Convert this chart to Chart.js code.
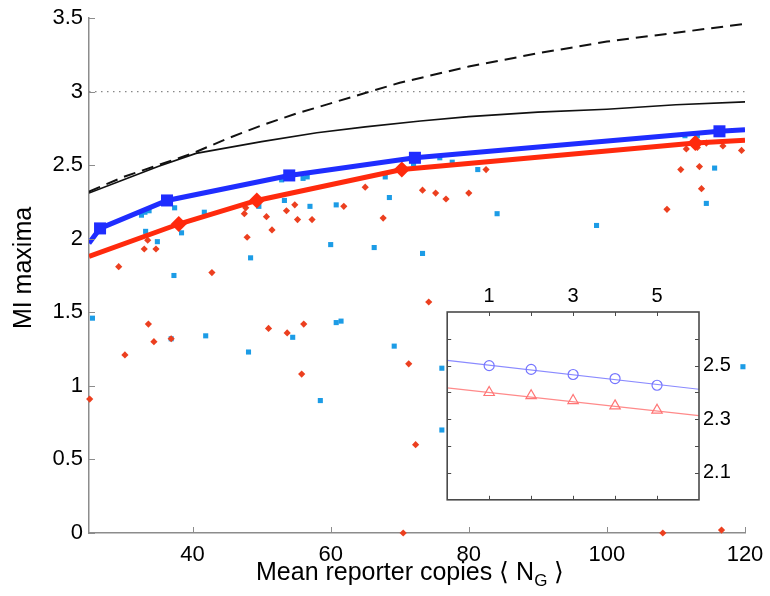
<!DOCTYPE html>
<html>
<head>
<meta charset="utf-8">
<script src="https://cdn.jsdelivr.net/npm/chart.js@4.4.1/dist/chart.umd.min.js"></script>
<style>
  html, body { margin: 0; padding: 0; background: #fff; }
  #wrap { position: relative; width: 770px; height: 596px; }
  #main { position: absolute; left: 0; top: 0; }
  #inset { position: absolute; left: 440px; top: 280px; }
</style>
</head>
<body>
<div id="wrap">
  <canvas id="main" width="770" height="596"></canvas>
  <canvas id="inset" width="300" height="227"></canvas>
</div>
<script>
const FONT = "'Liberation Sans', Arial, Helvetica, sans-serif";

// main axes
const xTicks = [40, 60, 80, 100, 120];
const yTicks = [0, 0.5, 1, 1.5, 2, 2.5, 3, 3.5];

// upper bounds (black dashed / black solid) and the 3 bit line
const dashX = [25, 30, 35, 40, 45, 50, 55, 60, 65, 70, 80, 90, 100, 110, 120];
const dashY = [2.32, 2.42, 2.50, 2.58, 2.68, 2.77, 2.85, 2.92, 2.99, 3.06, 3.17, 3.26, 3.34, 3.40, 3.46];
const solidX = [25, 30, 35, 40.5, 50, 58, 65, 73, 80, 90, 100, 110, 120];
const solidY = [2.31, 2.40, 2.49, 2.58, 2.66, 2.72, 2.76, 2.80, 2.83, 2.86, 2.88, 2.91, 2.93];
const limitX = [25, 120];
const limitY = [3, 3];

// fitted maxima curves
const blueX = [25, 26.6, 36.3, 54, 72.2, 116.3, 120];
const blueY = [1.97, 2.07, 2.26, 2.43, 2.55, 2.73, 2.74];
const redX = [25, 38, 49.3, 70.3, 112.8, 120];
const redY = [1.88, 2.10, 2.26, 2.47, 2.65, 2.67];

// single gene maxima
const bluePts = [
  [25.5, 1.46], [32.6, 2.16], [33.1, 2.18], [33.7, 2.19], [33.2, 2.05], [34.9, 1.98],
  [36.9, 1.32], [37.3, 1.75], [37.4, 2.21], [38.4, 2.04], [41.7, 2.18], [41.9, 1.34],
  [48.1, 1.23], [48.4, 1.87], [49.6, 2.22], [52.9, 2.40], [53.3, 2.26], [54.5, 1.33],
  [56.0, 2.41], [56.6, 2.42], [57.0, 2.22], [58.5, 0.90], [60.0, 1.96], [60.8, 2.23],
  [60.8, 1.43], [61.5, 1.44], [66.3, 1.94], [67.9, 2.42], [68.5, 2.28], [69.2, 1.27],
  [72.0, 2.51], [73.3, 1.90], [75.8, 2.55], [76.1, 1.12], [76.1, 0.70], [77.6, 2.52],
  [81.3, 2.47], [84.1, 2.17], [98.5, 2.09], [111.3, 2.70], [113.1, 2.70], [114.4, 2.24],
  [115.6, 2.48], [119.7, 1.13]
];
const redPts = [
  [25.1, 0.91], [29.3, 1.81], [30.2, 1.21], [33.0, 1.93], [33.5, 1.99], [33.6, 1.42],
  [34.4, 1.30], [34.7, 1.93], [36.9, 1.32], [42.8, 1.77], [47.5, 2.17], [47.7, 2.21],
  [47.9, 2.01], [50.7, 2.15], [51.0, 1.39], [51.5, 2.06], [53.6, 2.19], [53.7, 1.36],
  [54.8, 2.23], [55.2, 2.13], [55.8, 1.08], [56.1, 1.42], [57.3, 2.13], [61.9, 2.22],
  [65.0, 2.35], [67.6, 2.14], [70.5, 0.0], [71.3, 1.15], [72.3, 0.60], [73.3, 2.33],
  [74.2, 1.57], [75.2, 2.31], [76.7, 2.27], [80.0, 2.31], [82.5, 2.47], [108.1, 0.0],
  [108.7, 2.20], [110.7, 2.47], [111.5, 2.61], [113.1, 2.62], [113.4, 2.49], [113.7, 2.34],
  [114.4, 2.65], [116.6, 0.02], [116.8, 2.63], [119.5, 2.60]
];

// inset
const insetXTicks = [1, 2, 3, 4, 5];
const insetXLabels = ['1', '', '3', '', '5'];
const insetYTicks = [2.1, 2.2, 2.3, 2.4, 2.5, 2.6];
const insetYLabels = ['2.1', '', '2.3', '', '2.5', ''];
const insetX = [1, 2, 3, 4, 5];
const insetBlueY = [2.50, 2.486, 2.467, 2.452, 2.427];
const insetRedY = [2.40, 2.388, 2.370, 2.350, 2.334];
const fitX = [0, 6];
const fitBlueY = [2.52, 2.412];
const fitRedY = [2.417, 2.314];

Chart.defaults.font.family = FONT;
Chart.defaults.color = '#000';

function zip(xs, ys) { return xs.map((x, i) => ({ x: x, y: ys[i] })); }
function pts(list) { return list.map(p => ({ x: p[0], y: p[1] })); }

// fixed axis box, no automatic label padding
function fixSize(prop, size) {
    return s => {
        s[prop] = size;
        s.paddingTop = 0; s.paddingBottom = 0; s.paddingLeft = 0; s.paddingRight = 0;
    };
}

// MATLAB style ticks pointing into the plot
function innerTicks(len, color, mirror) {
    return {
        id: 'innerTicks',
        afterDraw(chart) {
            const { ctx, chartArea: a } = chart;
            const xs = chart.scales.x, ys = chart.scales.y;
            ctx.save();
            ctx.strokeStyle = color;
            ctx.lineWidth = 1;
            ctx.beginPath();
            xs.ticks.forEach(t => {
                const px = Math.round(xs.getPixelForValue(t.value)) + 0.5;
                ctx.moveTo(px, a.bottom); ctx.lineTo(px, a.bottom - len);
                if (mirror) { ctx.moveTo(px, a.top); ctx.lineTo(px, a.top + len); }
            });
            ys.ticks.forEach(t => {
                const py = Math.round(ys.getPixelForValue(t.value)) + 0.5;
                ctx.moveTo(a.left, py); ctx.lineTo(a.left + len, py);
                if (mirror) { ctx.moveTo(a.right, py); ctx.lineTo(a.right - len, py); }
            });
            ctx.stroke();
            ctx.restore();
        }
    };
}

const axisTitles = {
    id: 'axisTitles',
    afterDraw(chart) {
        const ctx = chart.ctx;
        ctx.save();
        ctx.fillStyle = '#000';
        ctx.textBaseline = 'alphabetic';
        ctx.font = '25px ' + FONT;
        ctx.textAlign = 'left';
        let x = 256;
        const y = 580;
        const a = 'Mean reporter copies \u27E8 N';
        ctx.fillText(a, x, y);
        x += ctx.measureText(a).width;
        ctx.font = '17px ' + FONT;
        ctx.fillText('G', x, y + 6);
        x += ctx.measureText('G').width;
        ctx.font = '25px ' + FONT;
        ctx.fillText(' \u27E9', x, y);

        ctx.translate(23, 268);
        ctx.rotate(-Math.PI / 2);
        ctx.textAlign = 'center';
        ctx.fillText('MI maxima', 0, 8);
        ctx.restore();
    }
};

new Chart(document.getElementById('main'), {
    type: 'scatter',
    data: {
        datasets: [
            {
                data: zip(blueX, blueY), showLine: true,
                borderColor: '#1f2dff', borderWidth: 5,
                pointStyle: 'rect', backgroundColor: '#1f2dff', pointBorderWidth: 0,
                pointRadius: c => (c.dataIndex === 0 || c.dataIndex === blueX.length - 1) ? 0 : 8.5
            },
            {
                data: zip(redX, redY), showLine: true,
                borderColor: '#ff2a0d', borderWidth: 5,
                pointStyle: 'rectRot', backgroundColor: '#ff2a0d', pointBorderWidth: 0,
                pointRadius: c => (c.dataIndex === 0 || c.dataIndex === redX.length - 1) ? 0 : 8
            },
            { data: zip(solidX, solidY), showLine: true, borderColor: '#111', borderWidth: 1.6, pointRadius: 0 },
            { data: zip(dashX, dashY), showLine: true, borderColor: '#111', borderWidth: 2, borderDash: [12, 7], pointRadius: 0 },
            { data: zip(limitX, limitY), showLine: true, borderColor: '#888', borderWidth: 1.3, borderDash: [1.5, 4.5], pointRadius: 0 },
            {
                data: pts(redPts), clip: false,
                pointStyle: 'rectRot', pointRadius: 3.6, backgroundColor: '#ec3f1f', borderWidth: 0
            },
            {
                data: pts(bluePts), clip: false,
                pointStyle: 'rect', pointRadius: 3.6, backgroundColor: '#1c9ce6', borderWidth: 0
            }
        ]
    },
    options: {
        responsive: false,
        animation: false,
        devicePixelRatio: 1,
        layout: { padding: { top: 18, right: 25, left: 0, bottom: 0 } },
        plugins: { legend: { display: false }, tooltip: { enabled: false } },
        scales: {
            x: {
                type: 'linear', min: 25, max: 120,
                afterBuildTicks: s => { s.ticks = xTicks.map(v => ({ value: v })); },
                afterFit: fixSize('height', 63),
                grid: { display: false, drawTicks: false },
                border: { display: true, color: '#8c8c8c', width: 1.5 },
                ticks: { font: { size: 22 }, padding: 9, maxRotation: 0, autoSkip: false, callback: v => String(v) }
            },
            y: {
                type: 'linear', min: 0, max: 3.5,
                afterBuildTicks: s => { s.ticks = yTicks.map(v => ({ value: v })); },
                afterFit: fixSize('width', 89),
                grid: { display: false, drawTicks: false },
                border: { display: true, color: '#8c8c8c', width: 1.5 },
                ticks: { font: { size: 22 }, padding: 6, autoSkip: false, callback: v => String(v) }
            }
        }
    },
    plugins: [innerTicks(6, '#8c8c8c', false), axisTitles]
});

const insetFrame = {
    id: 'insetFrame',
    beforeDraw(chart) {
        const { ctx, chartArea: a } = chart;
        ctx.save();
        ctx.fillStyle = '#fff';
        ctx.fillRect(a.left, a.top, a.right - a.left, a.bottom - a.top);
        ctx.restore();
    },
    afterDraw(chart) {
        const { ctx, chartArea: a } = chart;
        ctx.save();
        ctx.strokeStyle = '#4a4a4a';
        ctx.lineWidth = 1.6;
        ctx.strokeRect(a.left, a.top, a.right - a.left, a.bottom - a.top);
        ctx.restore();
    }
};

new Chart(document.getElementById('inset'), {
    type: 'scatter',
    data: {
        datasets: [
            {
                data: zip(insetX, insetBlueY),
                pointStyle: 'circle', pointRadius: 5, borderColor: '#7575ff', borderWidth: 1.2,
                backgroundColor: 'rgba(255,255,255,0)'
            },
            {
                data: zip(insetX, insetRedY),
                pointStyle: 'triangle', pointRadius: 6, borderColor: '#ff7575', borderWidth: 1.2,
                backgroundColor: 'rgba(255,255,255,0)'
            },
            { data: zip(fitX, fitBlueY), showLine: true, borderColor: '#8a8aff', borderWidth: 1.2, pointRadius: 0 },
            { data: zip(fitX, fitRedY), showLine: true, borderColor: '#ff8a8a', borderWidth: 1.2, pointRadius: 0 }
        ]
    },
    options: {
        responsive: false,
        animation: false,
        devicePixelRatio: 1,
        layout: { padding: { top: 0, right: 0, left: 5, bottom: 5 } },
        plugins: { legend: { display: false }, tooltip: { enabled: false } },
        scales: {
            x: {
                type: 'linear', position: 'top', min: 0, max: 6,
                afterBuildTicks: s => { s.ticks = insetXTicks.map(v => ({ value: v })); },
                afterFit: fixSize('height', 32),
                grid: { display: false, drawTicks: false },
                border: { display: false },
                ticks: { font: { size: 20 }, padding: 4, maxRotation: 0, autoSkip: false,
                         callback: (v, i) => insetXLabels[i] }
            },
            y: {
                type: 'linear', position: 'right', min: 2.0, max: 2.7,
                afterBuildTicks: s => { s.ticks = insetYTicks.map(v => ({ value: v })); },
                afterFit: fixSize('width', 41),
                grid: { display: false, drawTicks: false },
                border: { display: false },
                ticks: { font: { size: 20 }, padding: 4, autoSkip: false,
                         callback: (v, i) => insetYLabels[i] }
            }
        }
    },
    plugins: [insetFrame, innerTicks(4, '#4a4a4a', true)]
});
</script>
</body>
</html>
